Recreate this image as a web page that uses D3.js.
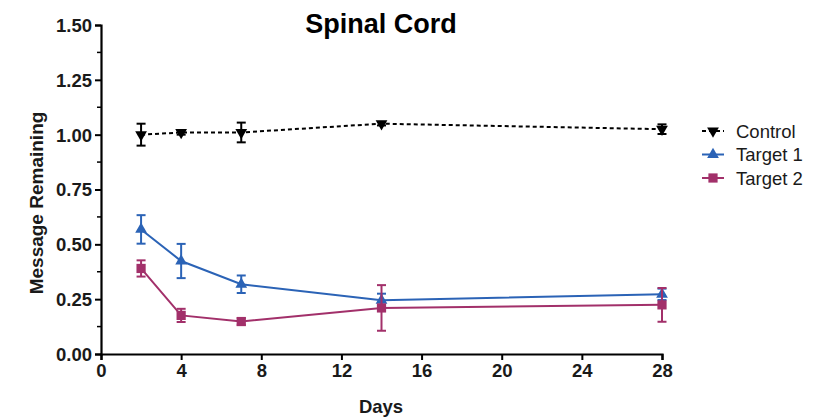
<!DOCTYPE html>
<html>
<head>
<meta charset="utf-8">
<script src="https://cdn.jsdelivr.net/npm/d3@7"></script>
<style>
  body { margin: 0; background: #fff; }
  svg { font-family: "Liberation Sans", Arial, sans-serif; }
</style>
</head>
<body>
<div id="chart"></div>
<script>
// data
var days = [2, 4, 7, 14, 28];
var controlMean = [1.00, 1.01, 1.01, 1.05, 1.025];
var controlErr = [0.05, 0.01, 0.045, 0.008, 0.022];
var target1Mean = [0.568, 0.424, 0.318, 0.245, 0.272];
var target1Err = [0.065, 0.078, 0.04, 0.03, 0.026];
var target2Mean = [0.39, 0.176, 0.148, 0.21, 0.224];
var target2Err = [0.037, 0.03, 0.015, 0.104, 0.077];
var xTicks = [0, 4, 8, 12, 16, 20, 24, 28];
var yTicks = [0, 0.25, 0.5, 0.75, 1.0, 1.25, 1.5];
var seriesNames = ["Control", "Target 1", "Target 2"];

var width = 833, height = 418;
var svg = d3.select("#chart").append("svg")
  .attr("width", width)
  .attr("height", height);

var x = d3.scaleLinear().domain([0, 28]).range([101, 662]);
var y = d3.scaleLinear().domain([0, 1.5]).range([354, 25]);

var series = [
  { name: seriesNames[0], mean: controlMean, err: controlErr, color: "#000000", dash: "4,3", sym: "down" },
  { name: seriesNames[1], mean: target1Mean, err: target1Err, color: "#2B63B6", dash: null, sym: "up" },
  { name: seriesNames[2], mean: target2Mean, err: target2Err, color: "#A2306A", dash: null, sym: "square" }
];

var triUp = d3.symbol().type(d3.symbolTriangle).size(60);
var square = d3.symbol().type(d3.symbolSquare).size(85);

function drawMarker(g, sym, cx, cy, color) {
  if (sym == "square") {
    g.append("path").attr("d", square).attr("fill", color)
      .attr("transform", "translate(" + cx + "," + cy + ")");
  } else {
    var rot = sym == "down" ? 180 : 0;
    g.append("path").attr("d", triUp).attr("fill", color)
      .attr("transform", "translate(" + cx + "," + cy + ") rotate(" + rot + ")");
  }
}

// axes
var yAxis = d3.axisLeft(y).tickValues(yTicks).tickFormat(d3.format(".2f")).tickSize(6).tickPadding(3);
var gy = svg.append("g").attr("transform", "translate(101,0)").call(yAxis);
// minor y ticks
gy.selectAll(".minor").data(d3.range(0.125, 1.5, 0.25)).enter().append("line")
  .attr("x1", -4).attr("x2", 0)
  .attr("y1", function(d) { return y(d); }).attr("y2", function(d) { return y(d); })
  .attr("stroke", "#000").attr("stroke-width", 1.5);

var xAxis = d3.axisBottom(x).tickValues(xTicks).tickSize(6).tickPadding(4);
var gx = svg.append("g").attr("transform", "translate(0,354)").call(xAxis);

[gx, gy].forEach(function(g) {
  g.select(".domain").attr("stroke", "#000").attr("stroke-width", 2.2);
  g.selectAll(".tick line").attr("stroke", "#000").attr("stroke-width", 2);
  g.selectAll(".tick text").attr("fill", "#1a1a1a")
    .style("font-size", "18.5px").style("font-weight", "bold")
    .style("font-family", "'Liberation Sans', Arial, sans-serif");
});
gy.selectAll(".tick text").attr("dy", "0.35em");

// titles
svg.append("text").attr("x", 381).attr("y", 33).attr("text-anchor", "middle")
  .style("font-size", "27px").style("font-weight", "bold").text("Spinal Cord");
svg.append("text").attr("x", 381).attr("y", 413).attr("text-anchor", "middle")
  .style("font-size", "18.5px").style("font-weight", "bold").attr("fill", "#1a1a1a").text("Days");
svg.append("text").attr("transform", "translate(43,203) rotate(-90)").attr("text-anchor", "middle")
  .style("font-size", "19px").style("font-weight", "bold").attr("fill", "#1a1a1a").text("Message Remaining");

var line = d3.line().x(function(d) { return x(d[0]); }).y(function(d) { return y(d[1]); });

series.forEach(function(s) {
  var g = svg.append("g");
  var pts = days.map(function(d, i) { return [d, s.mean[i]]; });
  g.append("path").datum(pts).attr("d", line)
    .attr("fill", "none").attr("stroke", s.color).attr("stroke-width", 2)
    .attr("stroke-dasharray", s.dash);
  days.forEach(function(d, i) {
    var cx = x(d), top = y(s.mean[i] + s.err[i]), bot = y(s.mean[i] - s.err[i]);
    g.append("line").attr("x1", cx).attr("x2", cx).attr("y1", top).attr("y2", bot)
      .attr("stroke", s.color).attr("stroke-width", 2);
    [top, bot].forEach(function(yy) {
      g.append("line").attr("x1", cx - 4.5).attr("x2", cx + 4.5).attr("y1", yy).attr("y2", yy)
        .attr("stroke", s.color).attr("stroke-width", 2);
    });
    drawMarker(g, s.sym, cx, y(s.mean[i]), s.color);
  });
});

// legend
var leg = svg.append("g").attr("transform", "translate(702,131)");
series.forEach(function(s, i) {
  var row = leg.append("g").attr("transform", "translate(0," + (i * 23.5) + ")");
  row.append("line").attr("x1", 0).attr("x2", 22).attr("y1", 0).attr("y2", 0)
    .attr("stroke", s.color).attr("stroke-width", 2).attr("stroke-dasharray", s.dash);
  drawMarker(row, s.sym, 11, 0, s.color);
  row.append("text").attr("x", 34).attr("y", 6.5).style("font-size", "18.5px")
    .attr("fill", "#1a1a1a").text(s.name);
});
</script>
</body>
</html>
